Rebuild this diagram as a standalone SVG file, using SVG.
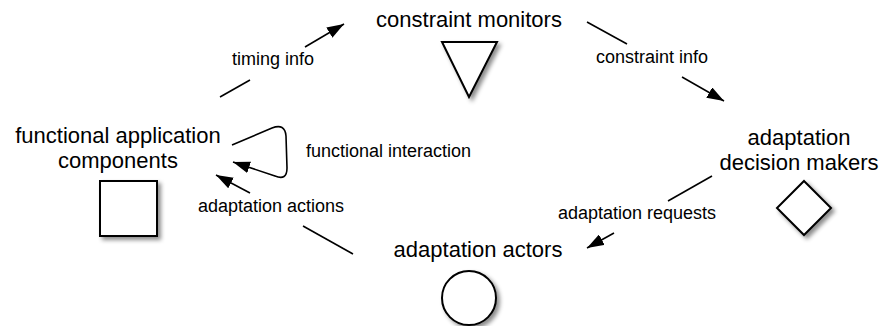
<svg xmlns="http://www.w3.org/2000/svg" width="883" height="326" viewBox="0 0 883 326">
  <style>
    .node-label { font-family: "Liberation Sans", Arial, Helvetica, sans-serif; font-size: 22px; fill: #000; text-anchor: middle; }
    .edge-label { font-family: "Liberation Sans", Arial, Helvetica, sans-serif; font-size: 18px; fill: #000; }
    .shape { fill: #fff; stroke: #000; stroke-width: 2; filter: url(#shadow); }
    .edge { fill: none; stroke: #000; stroke-width: 1.6; }
  </style>
  <defs>
    <filter id="shadow" x="-30%" y="-30%" width="170%" height="170%">
      <feDropShadow dx="3" dy="3" stdDeviation="2" flood-color="#000" flood-opacity="0.45"/>
    </filter>
    <marker id="arrow" viewBox="0 0 17 12" refX="17" refY="6" markerWidth="17" markerHeight="12" markerUnits="userSpaceOnUse" orient="auto">
      <path d="M0,0 L17,6 L0,12 z" fill="#000"/>
    </marker>
  </defs>

  <rect width="883" height="326" fill="#fff"/>

  <!-- connectors -->
  <g id="connectors">
    <!-- timing info -->
    <line class="edge" x1="220" y1="97" x2="250" y2="80"/>
    <line class="edge" x1="305" y1="47" x2="344" y2="24" marker-end="url(#arrow)"/>
    <!-- constraint info -->
    <line class="edge" x1="587" y1="22" x2="627" y2="44"/>
    <line class="edge" x1="682" y1="77" x2="724" y2="101" marker-end="url(#arrow)"/>
    <!-- adaptation requests -->
    <line class="edge" x1="712" y1="176" x2="668" y2="201"/>
    <line class="edge" x1="614" y1="233" x2="587" y2="248" marker-end="url(#arrow)"/>
    <!-- adaptation actions -->
    <line class="edge" x1="353" y1="254" x2="303" y2="226"/>
    <line class="edge" x1="250" y1="193" x2="216" y2="175" marker-end="url(#arrow)"/>
    <!-- functional interaction (self loop) -->
    <path class="edge" d="M232,145 L272,128 Q285,123 286,136 L287,168 Q287,181 275,176 L233,162" marker-end="url(#arrow)"/>

    <text class="edge-label" x="232" y="65">timing info</text>
    <text class="edge-label" x="596" y="63">constraint info</text>
    <text class="edge-label" x="558" y="219">adaptation requests</text>
    <text class="edge-label" x="198" y="212">adaptation actions</text>
    <text class="edge-label" x="306" y="157">functional interaction</text>
  </g>

  <!-- nodes -->
  <g id="functional-application-components">
    <text class="node-label" x="118" y="143">functional application</text>
    <text class="node-label" x="118" y="168">components</text>
    <rect class="shape" x="100" y="181" width="57" height="55"/>
  </g>

  <g id="constraint-monitors">
    <text class="node-label" x="469" y="27">constraint monitors</text>
    <polygon class="shape" points="442,42 497,42 469,97"/>
  </g>

  <g id="adaptation-decision-makers">
    <text class="node-label" x="799" y="145">adaptation</text>
    <text class="node-label" x="799" y="170">decision makers</text>
    <polygon class="shape" points="804,181 831,208 804,235 777,208"/>
  </g>

  <g id="adaptation-actors">
    <text class="node-label" x="478" y="257">adaptation actors</text>
    <circle class="shape" cx="469" cy="298" r="27"/>
  </g>
</svg>
